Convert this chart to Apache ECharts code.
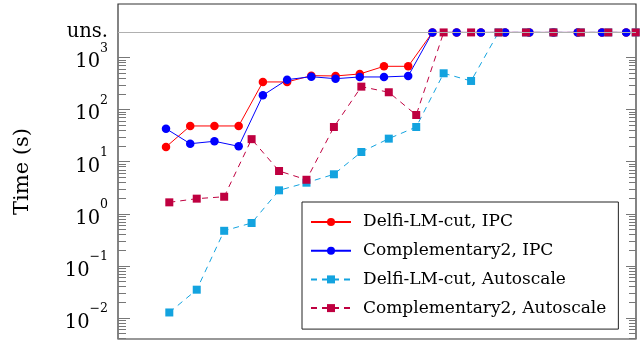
<!DOCTYPE html>
<html><head><meta charset="utf-8">
<script src="https://cdn.jsdelivr.net/npm/echarts@6/dist/echarts.min.js"></script>
<style>html,body{margin:0;padding:0;background:#fff}#c{width:644px;height:343px;background:#fff}</style>
</head><body><div id="c"></div>
<script>
// "uns." = unsolved placeholder value (drawn on the top line)
const UNS = 3000;

const seriesNames = [
  'Delfi-LM-cut, IPC',
  'Complementary2, IPC',
  'Delfi-LM-cut, Autoscale',
  'Complementary2, Autoscale'
];

// Time (s) per instance
const delfiIPC  = [19, 48, 48, 48, 336, 336, 444, 438, 478, 671, 671, UNS, UNS, UNS, UNS, UNS, UNS, UNS, UNS, UNS];
const comp2IPC  = [42.6, 21.9, 24.4, 19.5, 186, 372, 424, 388, 419, 419, 437, UNS, UNS, UNS, UNS, UNS, UNS, UNS, UNS, UNS];
const delfiAuto = [0.0126, 0.0345, 0.466, 0.658, 2.79, 3.91, 5.67, 15.2, 27.4, 45.9, 493, 351, UNS, UNS, UNS, UNS, UNS, UNS];
const comp2Auto = [1.64, 1.93, 2.10, 26.8, 6.56, 4.45, 45.9, 273, 213, 78, UNS, UNS, UNS, UNS, UNS, UNS, UNS, UNS];

// tick labels (decade exponents) and axis extent (in log10 units)
const majorExponents = [-2, -1, 0, 1, 2, 3];
const minorMantissas = [2, 3, 4, 5, 6, 7, 8, 9];
const Y_MIN = -2.409, Y_MAX = 4.023;
const X1_MIN = -0.982, X1_MAX = 20.405;
const X2_MIN = -0.870, X2_MAX = 18.011;

const UNS_LOG = Math.log10(UNS);
const minorTicks = [];
[-3, -2, -1, 0, 1, 2].forEach(e => minorMantissas.forEach(m => {
  const v = Math.log10(m) + e;
  if (v > Y_MIN && v < Y_MAX) minorTicks.push(v);
}));
const toPts = arr => arr.map((v, i) => [i + 1, Math.log10(v)]);

const FONT = 'DejaVu Serif';
const TICK_COLOR = '#777';
const supMinus = n => (n < 0 ? '\u2212' + (-n) : '' + n);

const labelAxis = {
  type: 'value', position: 'left', min: Y_MIN, max: Y_MAX, gridIndex: 0, offset: 0,
  axisLine: { show: false, onZero: false },
  splitLine: { show: false },
  axisTick: { show: false },
  axisLabel: {
    show: true, customValues: majorExponents.concat([UNS_LOG]), margin: 10,
    fontFamily: FONT, color: '#000',
    formatter: v => Math.abs(v - UNS_LOG) < 1e-6 ? '{u|uns.}' : '{b|10}{s|' + supMinus(Math.round(v)) + '}',
    rich: {
      b: { fontFamily: FONT, fontSize: 19.5, lineHeight: 19, verticalAlign: 'bottom', color: '#000' },
      s: { fontFamily: FONT, fontSize: 12.5, lineHeight: 30, verticalAlign: 'top', color: '#000' },
      u: { fontFamily: FONT, fontSize: 19.5, lineHeight: 20, color: '#000' }
    }
  },
  name: 'Time (s)', nameLocation: 'middle', nameGap: 85,
  nameTextStyle: { fontFamily: FONT, fontSize: 21, color: '#000' }
};

function lineSeries(name, data, xIdx, color, symbol, size, dashed) {
  return {
    name, type: 'line', xAxisIndex: xIdx, yAxisIndex: 0,
    data: toPts(data), symbol, symbolSize: size, showSymbol: true, clip: false,
    lineStyle: { color, width: 1, type: dashed ? [6, 5] : 'solid' },
    itemStyle: { color },
    emphasis: { disabled: true }
  };
}

// tick marks on both plot edges, drawn as a custom series through the y scale
const tickRows = majorExponents.map(v => [v, 1]).concat(minorTicks.map(v => [v, 0]));
const tickSeries = {
  type: 'custom', xAxisIndex: 0, yAxisIndex: 0, silent: true, clip: false, z: 1,
  data: tickRows,
  encode: { x: -1, y: 0 },
  renderItem: (params, api) => {
    const v = api.value(0), major = api.value(1) === 1;
    const pl = api.coord([X1_MIN, v]);
    const pr = api.coord([X1_MAX, v]);
    const y = Math.round(pl[1]) + 0.5;
    const lenL = major ? 12 : 8, lenR = major ? 10 : 7;
    const st = { stroke: TICK_COLOR, lineWidth: 1, fill: null };
    return {
      type: 'group',
      children: [
        { type: 'line', shape: { x1: pl[0], y1: y, x2: pl[0] + lenL, y2: y }, style: st },
        { type: 'line', shape: { x1: pr[0] - lenR, y1: y, x2: pr[0], y2: y }, style: st }
      ]
    };
  }
};

const chart = echarts.init(document.getElementById('c'), null, { renderer: 'canvas' });
const s0 = lineSeries(seriesNames[0], delfiIPC, 0, '#ff0000', 'circle', 8.5, false);
s0.markLine = {
  silent: true, symbol: 'none', label: { show: false },
  lineStyle: { color: '#b0b0b0', width: 1, type: 'solid' },
  data: [{ yAxis: UNS_LOG }]
};
chart.setOption({
  animation: false,
  grid: { left: 118, right: 8, top: 4, bottom: 4, show: true, borderColor: '#333', borderWidth: 1.2, backgroundColor: 'rgba(0,0,0,0)' },
  xAxis: [
    { type: 'value', min: X1_MIN, max: X1_MAX, show: false, axisLine: { onZero: false } },
    { type: 'value', min: X2_MIN, max: X2_MAX, show: false, axisLine: { onZero: false } }
  ],
  yAxis: [labelAxis],
  legend: {
    orient: 'vertical', left: 302, top: 202,
    padding: [10, 12, 11, 8], itemGap: 8.7, itemWidth: 40, itemHeight: 10,
    borderColor: '#222', borderWidth: 1, backgroundColor: '#fff', borderRadius: 0,
    textStyle: { fontFamily: FONT, fontSize: 17, color: '#000', lineHeight: 20, padding: [0, 0, 0, 7] },
    data: seriesNames
  },
  series: [
    tickSeries,
    s0,
    lineSeries(seriesNames[1], comp2IPC, 0, '#0000ff', 'circle', 8.5, false),
    lineSeries(seriesNames[2], delfiAuto, 1, '#13a3df', 'rect', 8, true),
    lineSeries(seriesNames[3], comp2Auto, 1, '#bf0040', 'rect', 8, true)
  ]
});
</script>
</body></html>
